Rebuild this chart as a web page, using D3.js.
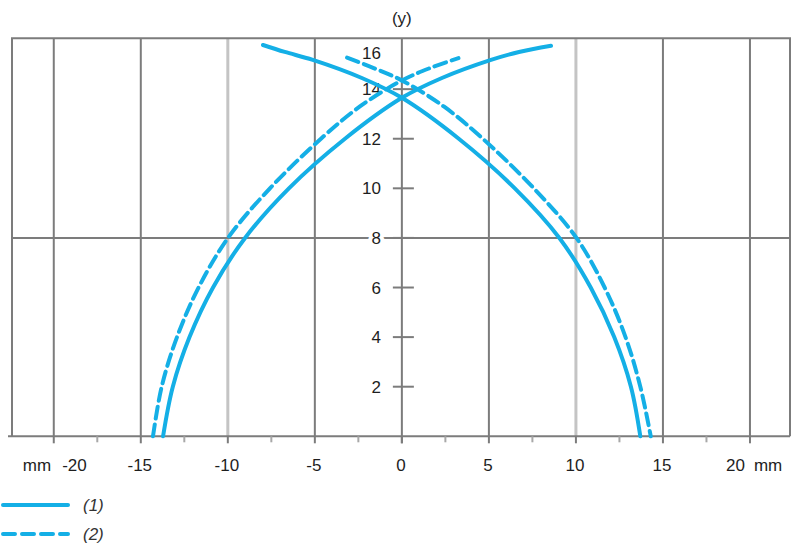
<!DOCTYPE html>
<html>
<head>
<meta charset="utf-8">
<script src="https://cdn.jsdelivr.net/npm/d3@7"></script>
<style>
  body { margin: 0; background: #fff; }
  text { font-family: "Liberation Sans", Arial, sans-serif; }
</style>
</head>
<body>
<div id="chart"></div>
<script>
// Axis ticks
const xTicks = [-20, -15, -10, -5, 0, 5, 10, 15, 20];
const xMinorTicks = [-17.5, -12.5, -7.5, -2.5, 2.5, 7.5, 12.5, 17.5];
const xHighlight = [-10, 10];
const yTicks = [2, 4, 6, 8, 10, 12, 14, 16];
const yRefLine = 8;

// Curve (1), solid: two branches crossing near x = 0
const c1RiseX = [-13.72, -13.16, -12.2, -10.85, -9.01, -6.49, -3.27, 0, 2.3, 5.12, 6.73, 8.57];
const c1RiseY = [0, 2, 4, 6, 8, 10, 12, 13.65, 14.45, 15.18, 15.5, 15.75];
const c1FallX = [-7.98, -6.73, -5.12, -2.3, 0, 3.27, 6.49, 9.05, 10.85, 12.2, 13.16, 13.7];
const c1FallY = [15.78, 15.5, 15.18, 14.45, 13.65, 12, 10, 8, 6, 4, 2, 0];

// Curve (2), dashed
const c2RiseX = [-14.3, -13.8, -12.92, -11.68, -9.99, -7.58, -4.65, -2.41, 0, 1.62, 3.25];
const c2RiseY = [0, 2, 4, 6, 8, 10, 12, 13.3, 14.35, 14.85, 15.25];
const c2FallX = [-3.15, -1.62, 0, 2.41, 4.65, 7.58, 10.03, 11.65, 12.85, 13.7, 14.3];
const c2FallY = [15.27, 14.85, 14.35, 13.3, 12, 10, 8, 6, 4, 2, 0];

const legendLabels = ["(1)", "(2)"];

const width = 800, height = 551;
const blue = "#14afe6", grid = "#7c7c7c", light = "#c4c4c4";
const fontSize = 17;

const svg = d3.select("#chart").append("svg")
    .attr("width", width)
    .attr("height", height);

const x = d3.scaleLinear().domain([-22.4, 22.3]).range([12, 790]);
const y = d3.scaleLinear().domain([0, 16.05]).range([436.3, 38.3]);

// Vertical grid lines
svg.append("g").selectAll("line")
    .data(xTicks)
    .enter().append("line")
    .attr("x1", d => x(d)).attr("x2", d => x(d))
    .attr("y1", y.range()[1]).attr("y2", d => d === 0 ? y(0) + 7 : y(0))
    .attr("stroke", d => xHighlight.includes(d) ? light : grid)
    .attr("stroke-width", d => xHighlight.includes(d) ? 3 : 2);

// Frame
svg.append("path")
    .attr("d", `M${x.range()[0]},${y(0)}V${y.range()[1]}H${x.range()[1]}V${y(0)}`)
    .attr("fill", "none").attr("stroke", grid).attr("stroke-width", 2);

// Bottom axis line and ticks
svg.append("line")
    .attr("x1", x.range()[0] - 4).attr("x2", x.range()[1])
    .attr("y1", y(0)).attr("y2", y(0))
    .attr("stroke", grid).attr("stroke-width", 2);

svg.append("g").selectAll("line")
    .data(xTicks)
    .enter().append("line")
    .attr("x1", d => x(d)).attr("x2", d => x(d))
    .attr("y1", y(0)).attr("y2", y(0) + 7)
    .attr("stroke", grid).attr("stroke-width", 2);

svg.append("g").selectAll("line")
    .data(xMinorTicks)
    .enter().append("line")
    .attr("x1", d => x(d)).attr("x2", d => x(d))
    .attr("y1", y(0)).attr("y2", y(0) + 6)
    .attr("stroke", "#a8a8a8").attr("stroke-width", 2);

// Horizontal reference line at y = 8
svg.append("line")
    .attr("x1", x.range()[0]).attr("x2", x.range()[1])
    .attr("y1", y(yRefLine)).attr("y2", y(yRefLine))
    .attr("stroke", grid).attr("stroke-width", 2);

// Y axis ticks across the centre line
svg.append("g").selectAll("line")
    .data(yTicks.filter(d => d < 16))
    .enter().append("line")
    .attr("x1", x(0) - 9).attr("x2", x(0) + 12)
    .attr("y1", d => y(d)).attr("y2", d => y(d))
    .attr("stroke", grid).attr("stroke-width", 2);

// Y tick labels
svg.append("g").selectAll("text")
    .data(yTicks)
    .enter().append("text")
    .attr("x", x(0) - 21)
    .attr("y", d => d === 16 ? y(d) + 13 : y(d))
    .attr("dy", "0.36em")
    .attr("text-anchor", "end")
    .attr("font-size", fontSize)
    .attr("fill", "#1e1e1e")
    .attr("stroke", "#fff").attr("stroke-width", 8)
    .attr("paint-order", "stroke")
    .text(d => d);

// X tick labels
const xLabels = svg.append("g").selectAll("text")
    .data(xTicks)
    .enter().append("text")
    .attr("x", d => d === -20 ? x(d) + 33 : d === 20 ? x(d) - 24 : x(d) - 1)
    .attr("y", y(0) + 29)
    .attr("dy", "0.36em")
    .attr("text-anchor", d => d === -20 ? "end" : d === 20 ? "start" : "middle")
    .attr("font-size", fontSize)
    .attr("fill", "#1e1e1e");

xLabels.filter(d => d === -20).call(t => {
    t.append("tspan").text("mm");
    t.append("tspan").attr("dx", 11).text(d => d);
});
xLabels.filter(d => d === 20).call(t => {
    t.append("tspan").text(d => d);
    t.append("tspan").attr("dx", 9).text("mm");
});
xLabels.filter(d => Math.abs(d) !== 20).text(d => d);

// Axis title
svg.append("text")
    .attr("x", x(0))
    .attr("y", 18)
    .attr("dy", "0.36em")
    .attr("text-anchor", "middle")
    .attr("font-size", fontSize)
    .attr("fill", "#1e1e1e")
    .text("(y)");

// Curves
const line = d3.line()
    .x(d => x(d[0]))
    .y(d => y(d[1]))
    .curve(d3.curveCatmullRom.alpha(0.5));

const branches = [
    { xs: c1RiseX, ys: c1RiseY, dash: null },
    { xs: c1FallX, ys: c1FallY, dash: null },
    { xs: c2RiseX, ys: c2RiseY, dash: "12,6" },
    { xs: c2FallX, ys: c2FallY, dash: "12,6" }
];

svg.append("g").selectAll("path")
    .data(branches)
    .enter().append("path")
    .attr("d", b => line(d3.zip(b.xs, b.ys)))
    .attr("fill", "none")
    .attr("stroke", blue)
    .attr("stroke-width", 4)
    .attr("stroke-linecap", "round")
    .attr("stroke-dasharray", b => b.dash);

// Legend
const legend = svg.append("g").attr("transform", "translate(0,505)");

legend.selectAll("line")
    .data(legendLabels)
    .enter().append("line")
    .attr("x1", 3).attr("x2", 68)
    .attr("y1", (d, i) => i * 29).attr("y2", (d, i) => i * 29)
    .attr("stroke", blue)
    .attr("stroke-width", 4)
    .attr("stroke-linecap", "round")
    .attr("stroke-dasharray", (d, i) => i === 1 ? "12,7" : null);

legend.selectAll("text")
    .data(legendLabels)
    .enter().append("text")
    .attr("x", 83)
    .attr("y", (d, i) => i * 29)
    .attr("dy", "0.36em")
    .attr("font-size", fontSize)
    .attr("font-style", "italic")
    .attr("fill", "#333")
    .text(d => d);
</script>
</body>
</html>
